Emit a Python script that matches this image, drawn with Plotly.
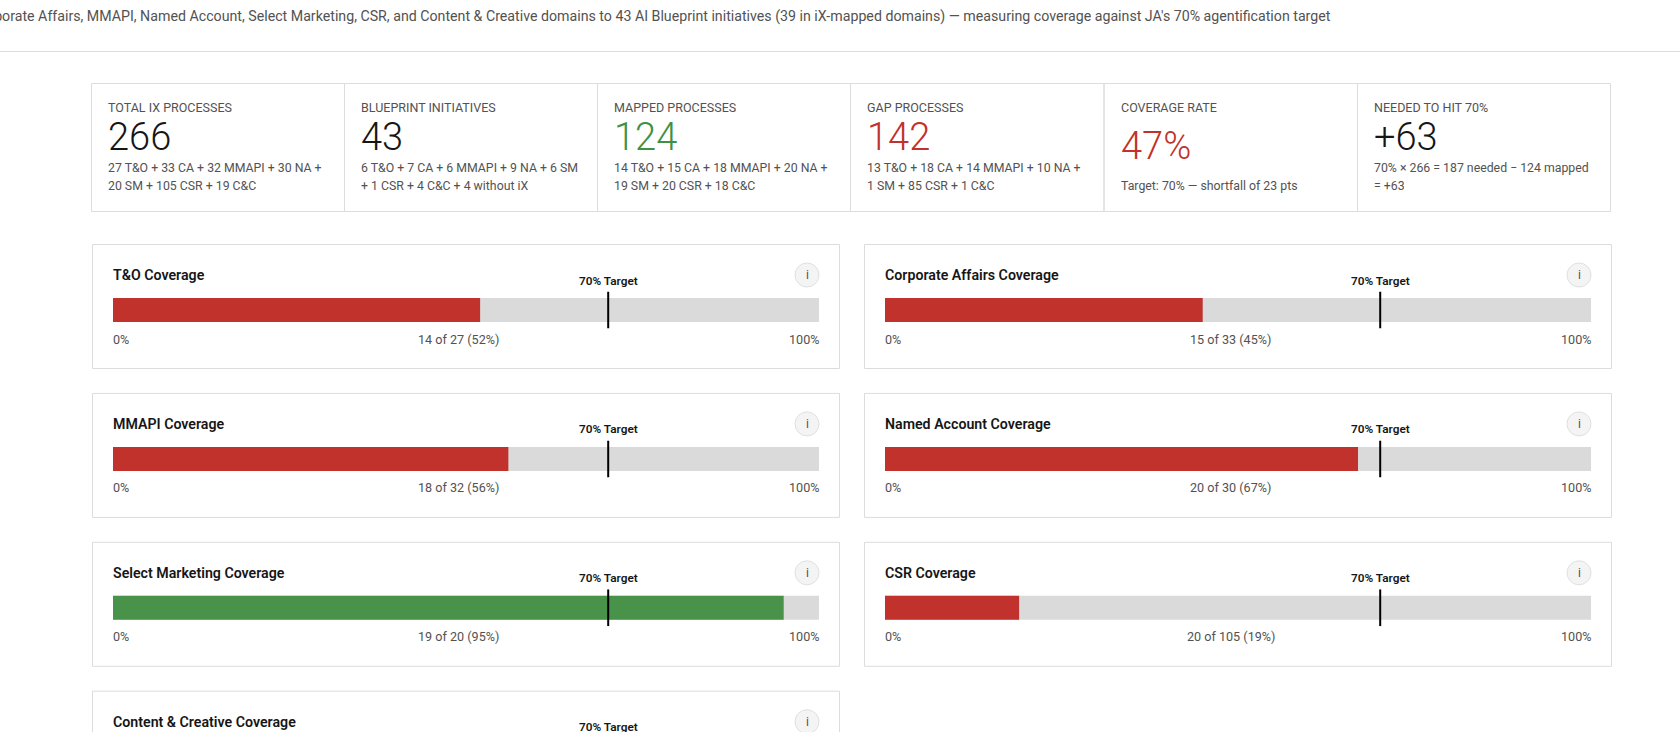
import plotly.graph_objects as go

# ---- data ----
domains = ["T&O", "Corporate Affairs", "MMAPI", "Named Account",
           "Select Marketing", "CSR", "Content & Creative"]
mapped = [14, 15, 18, 20, 19, 20, 18]
totals = [27, 33, 32, 30, 20, 105, 19]
percents = [52, 45, 56, 67, 95, 19, 95]
target_pct = 70

kpi_labels = ["TOTAL IX PROCESSES", "BLUEPRINT INITIATIVES", "MAPPED PROCESSES",
              "GAP PROCESSES", "COVERAGE RATE", "NEEDED TO HIT 70%"]
kpi_values = ["266", "43", "124", "142", "47%", "+63"]
kpi_line1 = ["27 T&O + 33 CA + 32 MMAPI + 30 NA +",
             "6 T&O + 7 CA + 6 MMAPI + 9 NA + 6 SM",
             "14 T&O + 15 CA + 18 MMAPI + 20 NA +",
             "13 T&O + 18 CA + 14 MMAPI + 10 NA +",
             "",
             "70% × 266 = 187 needed − 124 mapped"]
kpi_line2 = ["20 SM + 105 CSR + 19 C&C",
             "+ 1 CSR + 4 C&C + 4 without iX",
             "19 SM + 20 CSR + 18 C&C",
             "1 SM + 85 CSR + 1 C&C",
             "Target: 70% — shortfall of 23 pts",
             "= +63"]
header_text = ("Corporate Affairs, MMAPI, Named Account, Select Marketing, CSR, and Content & Creative "
               "domains to 43 AI Blueprint initiatives (39 in iX-mapped domains) — measuring coverage "
               "against JA's 70% agentification target")

# ---- styles ----
W, H = 1680, 860          # the last card runs below the 732px window
VIEW_H = 732
FONT = "Roboto"
RED, GREEN, TRACK = "#c0322b", "#48924a", "#dadada"
INK, GREY, RULE = "#161616", "#525252", "#dcdcdc"
KPI_COLORS = [INK, INK, "#3f9142", RED, RED, INK]

px = lambda v: v / W
py = lambda v: 1 - v / H

shapes, annotations = [], []


def text(x, y, s, size=12, color=GREY, anchor="left", weight=400, xref="paper", xshift=0):
    annotations.append(dict(
        x=x if xref != "paper" else px(x), y=py(y), xref=xref, yref="paper", text=s,
        showarrow=False, xanchor=anchor, yanchor="middle", align=anchor, xshift=xshift,
        font=dict(family=FONT, size=size, color=color, weight=weight),
        borderpad=0, borderwidth=0))


def rect(x0, y0, x1, y1, line=RULE, fill="rgba(0,0,0,0)", kind="rect", width=1):
    shapes.append(dict(type=kind, xref="paper", yref="paper",
                       x0=px(x0), x1=px(x1), y0=py(y0), y1=py(y1),
                       line=dict(color=line, width=width), fillcolor=fill, layer="below"))


# header
text(1331, 16.5, header_text, size=14.2, color=GREY, anchor="right")
rect(0, 51.5, W, 51.5, line=RULE)

# KPI strip
kpi_edges = [91.5, 344.5, 597.5, 850.5, 1104, 1357.5, 1610.5]
for i, label in enumerate(kpi_labels):
    x0, x1 = kpi_edges[i], kpi_edges[i + 1]
    rect(x0, 83.5, x1, 211.5)
    tx = x0 + 16.5
    text(tx, 107.5, label, size=12.5, color=GREY)
    val_y = 145.5 if not kpi_line1[i] else 136.5
    text(tx, val_y, kpi_values[i], size=38, color=KPI_COLORS[i], weight=300)
    if kpi_line1[i]:
        text(tx, 167.5, kpi_line1[i], size=12.3, color=GREY)
    text(tx, 185.5, kpi_line2[i], size=12.3, color=GREY)

# coverage cards
card_x = [(92.5, 839.5), (864.5, 1611.5)]
card_top0, card_step, card_h = 244.5, 148.9, 124
fig = go.Figure()
layout_axes = {}
for i, name in enumerate(domains):
    col, row = i % 2, i // 2
    cx0, cx1 = card_x[col]
    top = card_top0 + row * card_step
    rect(cx0, top, cx1, top + card_h)
    bx0, bx1 = cx0 + 20.5, cx1 - 20.5
    text(bx0, top + 30.5, f"{name} Coverage", size=14.2, color=INK, weight=600)
    rect(cx1 - 44.5, top + 18.5, cx1 - 20.5, top + 42.5, line="#e0e0e0", fill="#f4f4f4", kind="circle")
    text(cx1 - 32.5, top + 30.5, "i", size=12, color=GREY, anchor="center")

    n = "" if i == 0 else str(i + 1)
    ax_x, ax_y = f"x{n}", f"y{n}"
    # axis spans the height of the target tick; the bar occupies the middle of it
    dom_top, dom_bot = top + 47, top + 84
    layout_axes[f"xaxis{n}"] = dict(domain=[px(bx0), px(bx1)], range=[0, 100], visible=False, fixedrange=True)
    layout_axes[f"yaxis{n}"] = dict(domain=[py(dom_bot), py(dom_top)], range=[-0.5, 0.5],
                                    visible=False, fixedrange=True)
    fig.add_trace(go.Bar(x=[100], y=[0], width=[0.65], orientation="h", marker=dict(color=TRACK, line=dict(width=0)),
                         xaxis=ax_x, yaxis=ax_y, showlegend=False, hoverinfo="skip"))
    fig.add_trace(go.Bar(x=[percents[i]], y=[0], width=[0.65], orientation="h",
                         marker=dict(color=GREEN if percents[i] >= target_pct else RED, line=dict(width=0)),
                         xaxis=ax_x, yaxis=ax_y, showlegend=False, name=name))
    # the tick sits one pixel right of the 70% position, as a 2px box starting there would
    tick_x = target_pct + 100 / (bx1 - bx0)
    fig.add_trace(go.Scatter(x=[tick_x, tick_x], y=[-0.5, 0.5], mode="lines",
                             line=dict(color="#000000", width=2), xaxis=ax_x, yaxis=ax_y,
                             showlegend=False, hoverinfo="skip"))
    text(target_pct, top + 36, f"{target_pct}% Target", size=11.8, color=INK, anchor="center", weight=600,
         xref=ax_x, xshift=1)
    if top + 94.5 < VIEW_H:   # the scale row of the last card falls below the window
        text(0, top + 94.5, "0%", size=12.6, anchor="left", xref=ax_x)
        text(100, top + 94.5, "100%", size=12.6, anchor="right", xref=ax_x)
        text(49, top + 94.5, f"{mapped[i]} of {totals[i]} ({percents[i]}%)", size=12.6, anchor="center", xref=ax_x)

fig.update_layout(
    width=W, height=H, margin=dict(l=0, r=0, t=0, b=0, pad=0, autoexpand=False),
    paper_bgcolor="#ffffff", plot_bgcolor="rgba(0,0,0,0)",
    barmode="overlay", showlegend=False, shapes=shapes, annotations=annotations,
    font=dict(family=FONT), **layout_axes)

fig.write_html("out.html", config={"displayModeBar": False},
               post_script="document.documentElement.style.overflow='hidden';"
                           "document.documentElement.style.height='100%';"
                           "document.body.style.overflow='hidden';"
                           "document.body.style.height='100%';"
                           "document.body.style.margin='0';")
